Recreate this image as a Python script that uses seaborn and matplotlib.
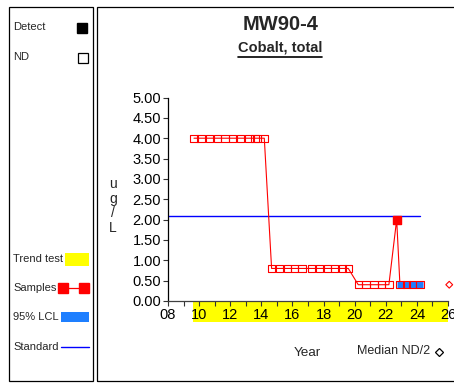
import matplotlib
matplotlib.use("Agg")
import matplotlib.pyplot as plt
import pandas as pd
import seaborn as sns
from matplotlib.patches import Rectangle
from matplotlib.lines import Line2D
from matplotlib.transforms import blended_transform_factory

# ---- data -------------------------------------------------------------
sample_year = [9.67, 10.12, 10.65, 11.17, 11.66, 12.16, 12.67, 13.20, 13.59, 13.76, 14.19,
               14.66, 15.15, 15.67, 16.12, 16.61, 17.21, 17.72, 18.24, 18.69, 19.23, 19.59,
               20.23, 20.73, 21.24, 21.74, 22.20,
               22.70,
               22.91, 23.34, 23.73, 24.20]
sample_value = [4.0] * 11 + [0.8] * 11 + [0.4] * 5 + [2.0] + [0.4] * 4
sample_detect = [False] * 27 + [True] + [False] * 4

standard_value = 2.1
standard_span = [8.0, 24.2]
lcl_value = 0.4
lcl_span = [22.72, 24.39]
trend_span = [9.6, 26.0]
median_nd_half_year = 26.08
median_nd_half_value = 0.4

y_ticks = [0.0, 0.5, 1.0, 1.5, 2.0, 2.5, 3.0, 3.5, 4.0, 4.5, 5.0]
x_ticks = [8, 10, 12, 14, 16, 18, 20, 22, 24, 26]
x_tick_labels = ["08", "10", "12", "14", "16", "18", "20", "22", "24", "26"]

title = "MW90-4"
subtitle = "Cobalt, total"

# ---- figure setup -----------------------------------------------------
W, H = 454, 384
sns.set_theme(style="white")
plt.rcParams["font.family"] = ["Liberation Sans", "DejaVu Sans"]

fig = plt.figure(figsize=(W / 100, H / 100), dpi=100)
fig.patch.set_facecolor("white")


def fx(x):
    return x / W


def fy(y):
    return 1 - y / H


# panel frames
fig.add_artist(Rectangle((fx(8.5), fy(381)), (92.5 - 8.5) / W, (381 - 6.5) / H,
                         transform=fig.transFigure, fill=False, lw=0.9, edgecolor="black"))
fig.add_artist(Rectangle((fx(97), fy(381)), (470 - 97) / W, (381 - 6.5) / H,
                         transform=fig.transFigure, fill=False, lw=0.9, edgecolor="black"))

ax = fig.add_axes([fx(168), fy(301), (448 - 168) / W, (301 - 97.5) / H])
ax.set_facecolor("white")

df = pd.DataFrame({"year": sample_year, "value": sample_value, "detect": sample_detect})

# trend-test band under the x axis
blend = blended_transform_factory(ax.transData, ax.transAxes)
ax.add_patch(Rectangle((trend_span[0], -0.103), trend_span[1] - trend_span[0], 0.098,
                       transform=blend, facecolor="#FFFF00", edgecolor="none",
                       clip_on=False, zorder=0))

# standard
ax.plot(standard_span, [standard_value] * 2, color="#0000FF", lw=1.0, zorder=2)

# sample series
sns.lineplot(data=df, x="year", y="value", sort=False, estimator=None,
             color="red", lw=0.8, ax=ax, zorder=3)

# 95% LCL
ax.plot(lcl_span, [lcl_value] * 2, color="#1E7FFF", lw=5.0,
        solid_capstyle="butt", zorder=3.5)

nd = df[~df["detect"]]
det = df[df["detect"]]
ax.scatter(nd["year"], nd["value"], marker="s", s=28, facecolors="none",
           edgecolors="red", linewidths=0.8, zorder=4)
ax.scatter(det["year"], det["value"], marker="s", s=36, color="red", zorder=4)

ax.scatter([median_nd_half_year], [median_nd_half_value], marker="D", s=12,
           facecolors="none", edgecolors="red", linewidths=0.8, zorder=4, clip_on=False)

# axes styling
ax.set_xlim(8, 26)
ax.set_ylim(0, 5)
ax.set_xticks(x_ticks)
ax.set_xticklabels(x_tick_labels)
ax.set_xticks(range(8, 27), minor=True)
ax.set_yticks(y_ticks)
ax.set_yticklabels([f"{v:.2f}" for v in y_ticks])
ax.set_xlabel("")
ax.set_ylabel("")
for side in ("top", "right"):
    ax.spines[side].set_visible(False)
ax.spines["left"].set_color("black")
ax.spines["left"].set_linewidth(0.9)
ax.spines["bottom"].set_color("#404040")
ax.spines["bottom"].set_linewidth(0.9)
ax.tick_params(axis="both", which="both", direction="out", length=3.5, width=0.8,
               color="#333333", labelsize=10.5, pad=1.5, labelcolor="black")
ax.tick_params(axis="x", which="both", bottom=True)
ax.tick_params(axis="y", left=True)
ax.tick_params(axis="x", labelsize=10.5, pad=1.5)

# stacked unit label
fig.text(fx(113), fy(206), "u\ng\n/\nL", ha="center", va="center",
         fontsize=10, linespacing=1.05)

# titles
fig.text(fx(281), fy(25), title, ha="center", va="center", fontsize=14.5, weight="bold")
sub = fig.text(fx(280), fy(48), subtitle, ha="center", va="center",
               fontsize=10.5, weight="bold")
fig.canvas.draw()
bb = sub.get_window_extent(fig.canvas.get_renderer())
fig.add_artist(Line2D([bb.x0 / W, bb.x1 / W], [fy(56.5)] * 2,
                      transform=fig.transFigure, color="black", lw=1.2))

fig.text(fx(307.5), fy(353), "Year", ha="center", va="center", fontsize=9.7)
fig.text(fx(357), fy(351), "Median ND/2", ha="left", va="center", fontsize=9)
fig.add_artist(Line2D([fx(438.5)], [fy(352)], marker="D", markersize=4,
                      markerfacecolor="white", markeredgecolor="black",
                      markeredgewidth=0.9, transform=fig.transFigure, linestyle="none"))

# left-hand key
key_fs = 8
fig.text(fx(13), fy(27), "Detect", ha="left", va="center", fontsize=key_fs)
fig.add_artist(Line2D([fx(82)], [fy(27.5)], marker="s", markersize=7,
                      color="black", transform=fig.transFigure, linestyle="none"))
fig.text(fx(13), fy(57), "ND", ha="left", va="center", fontsize=key_fs)
fig.add_artist(Line2D([fx(82.5)], [fy(57.5)], marker="s", markersize=6.5,
                      markerfacecolor="white", markeredgecolor="black", markeredgewidth=0.9,
                      transform=fig.transFigure, linestyle="none"))

fig.text(fx(13), fy(259), "Trend test", ha="left", va="center", fontsize=key_fs)
fig.add_artist(Rectangle((fx(65), fy(266)), 24 / W, 13 / H, transform=fig.transFigure,
                         facecolor="#FFFF00", edgecolor="none"))

fig.text(fx(13), fy(288), "Samples", ha="left", va="center", fontsize=key_fs)
fig.add_artist(Line2D([fx(63), fx(84)], [fy(288)] * 2, color="red", lw=0.9,
                      marker="s", markersize=7, transform=fig.transFigure))

fig.text(fx(13), fy(317), "95% LCL", ha="left", va="center", fontsize=key_fs)
fig.add_artist(Rectangle((fx(61), fy(322)), 28 / W, 10 / H, transform=fig.transFigure,
                         facecolor="#1E7FFF", edgecolor="none"))

fig.text(fx(13), fy(347), "Standard", ha="left", va="center", fontsize=key_fs)
fig.add_artist(Line2D([fx(61), fx(89)], [fy(347)] * 2, color="#0000FF", lw=1.0,
                      transform=fig.transFigure))

fig.savefig("out.png", dpi=100, facecolor="white")
